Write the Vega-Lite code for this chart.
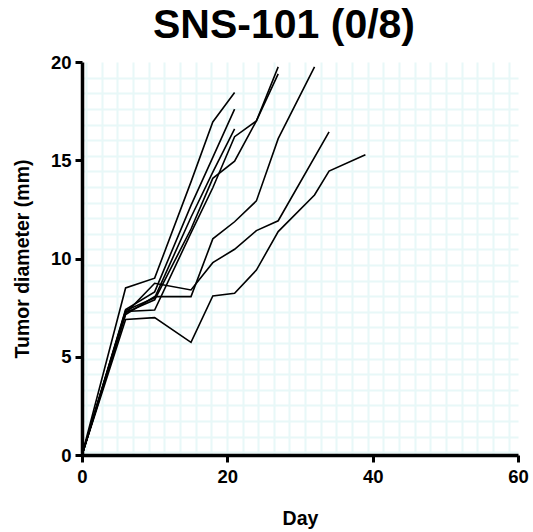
{
  "$schema": "https://vega.github.io/schema/vega-lite/v6.json",
  "width": 436,
  "height": 393,
  "autosize": {"type": "none"},
  "padding": {"left": 82, "top": 62, "right": 15, "bottom": 77},
  "background": "white",
  "title": {
    "text": "SNS-101 (0/8)",
    "font": "Liberation Sans",
    "fontSize": 41,
    "fontWeight": "bold",
    "color": "black",
    "anchor": "middle",
    "dx": -16,
    "offset": 6
  },
  "data": {
    "values": [
      {"mouse": "M1", "day": 0, "size": 0},
      {"mouse": "M1", "day": 6, "size": 8.5},
      {"mouse": "M1", "day": 10, "size": 9.0},
      {"mouse": "M1", "day": 15, "size": 13.9},
      {"mouse": "M1", "day": 18, "size": 16.95},
      {"mouse": "M1", "day": 21, "size": 18.45},
      {"mouse": "M2", "day": 0, "size": 0},
      {"mouse": "M2", "day": 6, "size": 7.4},
      {"mouse": "M2", "day": 10, "size": 8.3},
      {"mouse": "M2", "day": 15, "size": 12.7},
      {"mouse": "M2", "day": 18, "size": 15.15},
      {"mouse": "M2", "day": 21, "size": 17.6},
      {"mouse": "M3", "day": 0, "size": 0},
      {"mouse": "M3", "day": 6, "size": 7.35},
      {"mouse": "M3", "day": 10, "size": 8.0},
      {"mouse": "M3", "day": 15, "size": 12.1},
      {"mouse": "M3", "day": 18, "size": 14.4},
      {"mouse": "M3", "day": 21, "size": 16.6},
      {"mouse": "M4", "day": 0, "size": 0},
      {"mouse": "M4", "day": 6, "size": 7.3},
      {"mouse": "M4", "day": 10, "size": 7.38},
      {"mouse": "M4", "day": 15, "size": 11.3},
      {"mouse": "M4", "day": 18, "size": 13.6},
      {"mouse": "M4", "day": 21, "size": 16.2},
      {"mouse": "M4", "day": 24, "size": 17.0},
      {"mouse": "M4", "day": 27, "size": 19.75},
      {"mouse": "M5", "day": 0, "size": 0},
      {"mouse": "M5", "day": 6, "size": 7.25},
      {"mouse": "M5", "day": 10, "size": 7.9},
      {"mouse": "M5", "day": 15, "size": 11.5},
      {"mouse": "M5", "day": 18, "size": 14.08},
      {"mouse": "M5", "day": 21, "size": 14.95},
      {"mouse": "M5", "day": 24, "size": 17.0},
      {"mouse": "M5", "day": 27, "size": 19.4},
      {"mouse": "M6", "day": 0, "size": 0},
      {"mouse": "M6", "day": 6, "size": 7.15},
      {"mouse": "M6", "day": 10, "size": 8.06},
      {"mouse": "M6", "day": 15, "size": 8.06},
      {"mouse": "M6", "day": 18, "size": 11.0},
      {"mouse": "M6", "day": 21, "size": 11.87},
      {"mouse": "M6", "day": 24, "size": 12.93},
      {"mouse": "M6", "day": 27, "size": 16.1},
      {"mouse": "M6", "day": 32, "size": 19.75},
      {"mouse": "M7", "day": 0, "size": 0},
      {"mouse": "M7", "day": 6, "size": 7.2},
      {"mouse": "M7", "day": 10, "size": 8.74},
      {"mouse": "M7", "day": 15, "size": 8.4},
      {"mouse": "M7", "day": 18, "size": 9.79},
      {"mouse": "M7", "day": 21, "size": 10.47},
      {"mouse": "M7", "day": 24, "size": 11.42},
      {"mouse": "M7", "day": 27, "size": 11.92},
      {"mouse": "M7", "day": 34, "size": 16.44},
      {"mouse": "M8", "day": 0, "size": 0},
      {"mouse": "M8", "day": 6, "size": 6.9},
      {"mouse": "M8", "day": 10, "size": 6.99},
      {"mouse": "M8", "day": 15, "size": 5.73},
      {"mouse": "M8", "day": 18, "size": 8.09},
      {"mouse": "M8", "day": 21, "size": 8.23},
      {"mouse": "M8", "day": 24, "size": 9.41},
      {"mouse": "M8", "day": 27, "size": 11.37},
      {"mouse": "M8", "day": 32, "size": 13.23},
      {"mouse": "M8", "day": 34, "size": 14.45},
      {"mouse": "M8", "day": 39, "size": 15.28}
    ]
  },
  "layer": [
    {
      "mark": {"type": "line", "strokeOpacity": 0},
      "encoding": {
        "x": {
          "field": "day", "type": "quantitative",
          "scale": {"domain": [0, 60], "nice": false, "zero": false},
          "axis": {
            "grid": true, "labels": false, "ticks": false, "domain": false, "title": null,
            "gridColor": "#e8f8f8", "gridWidth": 2,
            "values": [0.55, 2.70, 4.86, 7.01, 9.16, 11.32, 13.47, 15.63, 17.78, 19.93, 22.09, 24.24, 26.39, 28.55, 30.70, 32.86, 35.01, 37.16, 39.32, 41.47, 43.63, 45.78, 47.93, 50.09, 52.24, 54.39, 56.55, 58.70]
          }
        },
        "y": {
          "field": "size", "type": "quantitative",
          "scale": {"domain": [0, 20], "nice": false},
          "axis": {
            "grid": true, "labels": false, "ticks": false, "domain": false, "title": null,
            "gridColor": "#e8f8f8", "gridWidth": 2,
            "values": [0.14, 0.94, 1.73, 2.52, 3.32, 4.11, 4.91, 5.70, 6.49, 7.29, 8.08, 8.88, 9.67, 10.46, 11.26, 12.05, 12.84, 13.64, 14.43, 15.23, 16.02, 16.81, 17.61, 18.40, 19.20]
          }
        },
        "detail": {"field": "mouse"}
      }
    },
    {
      "mark": {"type": "line", "color": "black", "strokeWidth": 1.6},
      "encoding": {
        "x": {
          "field": "day", "type": "quantitative",
          "scale": {"domain": [0, 60], "nice": false, "zero": false},
          "axis": {
            "grid": false, "values": [0, 20, 40, 60], "title": "Day",
            "labelFont": "Liberation Sans", "labelFontSize": 18.5, "labelFontWeight": "bold", "labelColor": "black",
            "titleFont": "Liberation Sans", "titleFontSize": 19.5, "titleFontWeight": "bold", "titleColor": "black",
            "domainColor": "black", "domainWidth": 3.5, "tickColor": "black", "tickWidth": 3, "tickSize": 7,
            "labelPadding": 5, "titlePadding": 24, "labelFlush": false, "orient": "bottom"
          }
        },
        "y": {
          "field": "size", "type": "quantitative",
          "scale": {"domain": [0, 20], "nice": false},
          "axis": {
            "grid": false, "values": [0, 5, 10, 15, 20], "title": "Tumor diameter (mm)",
            "labelFont": "Liberation Sans", "labelFontSize": 18.5, "labelFontWeight": "bold", "labelColor": "black",
            "titleFont": "Liberation Sans", "titleFontSize": 19.5, "titleFontWeight": "bold", "titleColor": "black",
            "domainColor": "black", "domainWidth": 3.5, "tickColor": "black", "tickWidth": 3, "tickSize": 7,
            "labelPadding": 4, "titlePadding": 18, "labelFlush": false, "orient": "left"
          }
        },
        "detail": {"field": "mouse"}
      }
    }
  ],
  "resolve": {"axis": {"x": "independent", "y": "independent"}},
  "config": {"view": {"stroke": null}}
}
